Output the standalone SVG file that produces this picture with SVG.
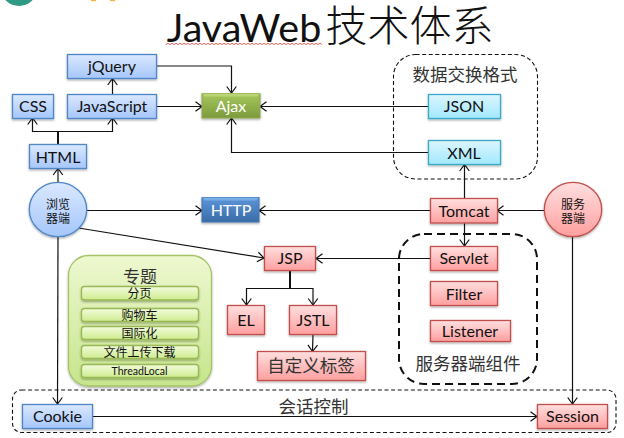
<svg xmlns="http://www.w3.org/2000/svg" width="624" height="438" viewBox="0 0 624 438">
<style>
text{font-family:"Lato","Noto Sans CJK SC",sans-serif;fill:#111;text-anchor:middle}
.l{font-size:16px}
.cjk{fill:#333;font-size:17.5px;font-weight:400}
.b{fill:url(#gb);stroke:#4f86c6;stroke-width:1.3;filter:url(#sh)}
.r{fill:url(#gr);stroke:#c0504d;stroke-width:1.3;filter:url(#sh)}
.c{fill:url(#gc);stroke:#3aa8c6;stroke-width:1.3;filter:url(#sh)}
.p{fill:url(#gp);stroke:#98b954;stroke-width:1.3;filter:url(#sh)}
.w{fill:none;stroke:#111;stroke-width:1.1;stroke-dasharray:4 2.6}
.cn path{fill:none;stroke:#111;stroke-width:1.2}
.a{marker-end:url(#ah)}
.t{font-size:12px;font-weight:400}
</style>
<defs>
<linearGradient id="gb" x1="0" y1="0" x2="0" y2="1"><stop offset="0" stop-color="#dae8ff"/><stop offset="1" stop-color="#a5c6fb"/></linearGradient>
<linearGradient id="gr" x1="0" y1="0" x2="0" y2="1"><stop offset="0" stop-color="#ffdfdf"/><stop offset="1" stop-color="#ff9f9f"/></linearGradient>
<linearGradient id="gc" x1="0" y1="0" x2="0" y2="1"><stop offset="0" stop-color="#dcf6ff"/><stop offset="1" stop-color="#a2e8ff"/></linearGradient>
<linearGradient id="gp" x1="0" y1="0" x2="0" y2="1"><stop offset="0" stop-color="#f3fbdc"/><stop offset="1" stop-color="#cdec8e"/></linearGradient>
<linearGradient id="gg" x1="0" y1="0" x2="0" y2="1"><stop offset="0" stop-color="#eef8d0"/><stop offset="1" stop-color="#c6e58c"/></linearGradient>
<linearGradient id="ga" x1="0" y1="0" x2="0" y2="1"><stop offset="0" stop-color="#a6c85e"/><stop offset="1" stop-color="#7c9a3c"/></linearGradient>
<linearGradient id="gh" x1="0" y1="0" x2="0" y2="1"><stop offset="0" stop-color="#5c96d8"/><stop offset="1" stop-color="#3a6ca8"/></linearGradient>
<filter id="sh" x="-15%" y="-15%" width="130%" height="140%"><feDropShadow dx="0" dy="1.2" stdDeviation="1" flood-color="#000" flood-opacity=".35"/></filter>
<marker id="ah" markerUnits="userSpaceOnUse" markerWidth="10" markerHeight="12" refX="8" refY="6" orient="auto"><path d="M1.5 1.2L8 6L1.5 10.8" fill="none" stroke="#111" stroke-width="1.2"/></marker>
</defs>
<rect width="624" height="438" fill="#fff"/>
<ellipse cx="19" cy="-9" rx="17" ry="15" fill="#2f9a83"/>
<rect x="91" y="0" width="5" height="1.2" fill="#f7b045"/><rect x="110" y="0" width="5" height="1.2" fill="#f7b045"/>
<g id="title">
<text x="244" y="41.500" font-size="39.500">JavaWeb</text>
<text x="409.500" y="41" font-size="42" style="font-weight:300">技术体系</text>
<path d="M166 44.500l2 -1.200 2 1.200 2 -1.200 2 1.200 2 -1.200 2 1.200 2 -1.200 2 1.200 2 -1.200 2 1.200 2 -1.200 2 1.200 2 -1.200 2 1.200 2 -1.200 2 1.200 2 -1.200 2 1.200 2 -1.200 2 1.200 2 -1.200 2 1.200 2 -1.200 2 1.200 2 -1.200 2 1.200 2 -1.200 2 1.200 2 -1.200 2 1.200 2 -1.200 2 1.200 2 -1.200 2 1.200 2 -1.200 2 1.200 2 -1.200 2 1.200 2 -1.200 2 1.200 2 -1.200 2 1.200 2 -1.200 2 1.200 2 -1.200 2 1.200 2 -1.200 2 1.200 2 -1.200 2 1.200 2 -1.200 2 1.200 2 -1.200 2 1.200 2 -1.200 2 1.200 2 -1.200 2 1.200 2 -1.200 2 1.200 2 -1.200 2 1.200 2 -1.200 2 1.200 2 -1.200 2 1.200 2 -1.200 2 1.200 2 -1.200 2 1.200 2 -1.200 2 1.200 2 -1.200 2 1.200 2 -1.200 2 1.200 2 -1.200 2 1.200" fill="none" stroke="#e0564f" stroke-width=".9"/>
</g>
<g id="group-data"><rect class="w" x="393.500" y="54.500" width="144" height="124.500" rx="22"/><text class="cjk" x="465" y="81">数据交换格式</text></g>
<g id="group-server"><rect x="399" y="234" width="138" height="150" rx="25" fill="none" stroke="#111" stroke-width="2" stroke-dasharray="8 5"/><text class="cjk" x="468" y="370">服务器端组件</text></g>
<g id="group-session"><rect class="w" x="12.500" y="390" width="603.500" height="42.500" rx="9"/><text class="cjk" x="313.500" y="413">会话控制</text></g>
<g id="connectors" class="cn">
<path class="a" d="M156 66H231.500V93"/>
<path class="a" d="M112.500 94.500V78.500"/>
<path class="a" d="M156 106.500H202"/>
<path class="a" d="M58 144.500V131.500H32.500V118"/>
<path class="a" d="M58 131.500H112.500V118"/>
<path d="M58 144.500V131.500" style="stroke-width:2"/>
<path class="a" d="M58 182V168.500"/>
<path class="a" d="M428 106.500H260"/>
<path class="a" d="M428 152.500H231.500V118"/>
<path class="a" d="M464.500 198.500V164.500"/>
<path class="a" d="M544 210.500H497"/>
<path class="a" d="M430 210.500H259"/>
<path class="a" d="M87 210.500H202"/>
<path class="a" d="M78.500 228L264 258"/>
<path class="a" d="M464.500 223V246"/>
<path class="a" d="M430 258.500H316"/>
<path class="a" d="M290 270V288.500H246.500V305"/>
<path class="a" d="M290 288.500H313V305"/>
<path d="M290 270V288.500" style="stroke-width:2"/>
<path class="a" d="M313 334.500L312.500 351.500"/>
<path class="a" d="M58 236.500L57.500 404"/>
<path class="a" d="M92.500 416.500H537"/>
<path class="a" d="M572.500 236V404"/>
</g>
<g id="jquery"><rect class="b" x="67.500" y="54.500" width="89" height="24"/><text class="l" x="112" y="72">jQuery</text></g>
<g id="javascript"><rect class="b" x="67.500" y="94.500" width="89" height="24"/><text class="l" x="112" y="112">JavaScript</text></g>
<g id="css"><rect class="b" x="12.500" y="94.500" width="41" height="24"/><text class="l" x="33" y="112">CSS</text></g>
<g id="html"><rect class="b" x="29.500" y="144.500" width="57" height="24"/><text class="l" x="58" y="163">HTML</text></g>
<g id="ajax"><rect x="202" y="93.500" width="58" height="24.500" fill="url(#ga)" stroke="#8aa84a" filter="url(#sh)"/><path d="M202 93.500h58l-3 3h-52z" fill="#b9d375"/><text class="l" x="231" y="112" style="fill:#fff">Ajax</text></g>
<g id="http"><rect x="202" y="197.500" width="57" height="24.500" fill="url(#gh)" stroke="#3f74b4" filter="url(#sh)"/><path d="M202 197.500h57l-3 3h-51z" fill="#78aee6"/><text class="l" x="231" y="216" style="fill:#fff">HTTP</text></g>
<g id="json"><rect class="c" x="428.500" y="94.500" width="72" height="24"/><text class="l" x="464" y="112">JSON</text></g>
<g id="xml"><rect class="c" x="428.500" y="140.500" width="72" height="24"/><text class="l" x="464" y="159">XML</text></g>
<g id="tomcat"><rect class="r" x="430.500" y="198.500" width="67" height="24.500"/><text class="l" x="464" y="217">Tomcat</text></g>
<g id="servlet"><rect class="r" x="430.500" y="246.500" width="67" height="24"/><text class="l" x="464" y="264">Servlet</text></g>
<g id="filter"><rect class="r" x="430.500" y="281.500" width="67" height="24"/><text class="l" x="464" y="300">Filter</text></g>
<g id="listener"><rect class="r" x="430.500" y="320.500" width="80" height="21"/><text class="l" x="470" y="337">Listener</text></g>
<g id="browser"><ellipse class="b" cx="58" cy="209.500" rx="28.700" ry="27.200"/><text class="t" x="58" y="209">浏览</text><text class="t" x="58" y="223">器端</text></g>
<g id="server"><ellipse class="r" cx="573" cy="209.500" rx="28.700" ry="27.200"/><text class="t" x="573" y="209">服务</text><text class="t" x="573" y="223">器端</text></g>
<g id="jsp"><rect class="r" x="264.500" y="246.500" width="51" height="24"/><text class="l" x="290" y="264">JSP</text></g>
<g id="el"><rect class="r" x="227.500" y="305.500" width="37" height="29"/><text class="l" x="246" y="326">EL</text></g>
<g id="jstl"><rect class="r" x="289.500" y="305.500" width="47" height="29"/><text class="l" x="313" y="326">JSTL</text></g>
<g id="taglib"><rect class="r" x="257.500" y="351.500" width="108" height="29"/><text class="cjk" x="311" y="372">自定义标签</text></g>
<g id="cookie"><rect class="b" x="22.500" y="404.500" width="70" height="24"/><text class="l" x="57.500" y="422">Cookie</text></g>
<g id="session"><rect class="r" x="537.500" y="404.500" width="70" height="24"/><text class="l" x="572.500" y="422">Session</text></g>
<g id="topics"><rect x="68.500" y="255.500" width="143" height="130.500" rx="20" fill="url(#gg)" stroke="#a5c467" stroke-width="1.3" filter="url(#sh)"/><text class="cjk" x="140" y="283" style="font-size:17px">专题</text>
<rect class="p" x="81.500" y="286.500" width="117" height="13.500" rx="3"/><text class="t" x="139.500" y="298">分页</text>
<rect class="p" x="81.500" y="308.500" width="117" height="13" rx="3"/><text class="t" x="139.500" y="320">购物车</text>
<rect class="p" x="81.500" y="326.500" width="117" height="13" rx="3"/><text class="t" x="139.500" y="338">国际化</text>
<rect class="p" x="81.500" y="345.500" width="117" height="13" rx="3"/><text class="t" x="139.500" y="356.500">文件上传下载</text>
<rect class="p" x="81.500" y="364.500" width="117" height="13" rx="3"/><text x="139.500" y="375" style="font-size:10.500px">ThreadLocal</text></g>
</svg>
